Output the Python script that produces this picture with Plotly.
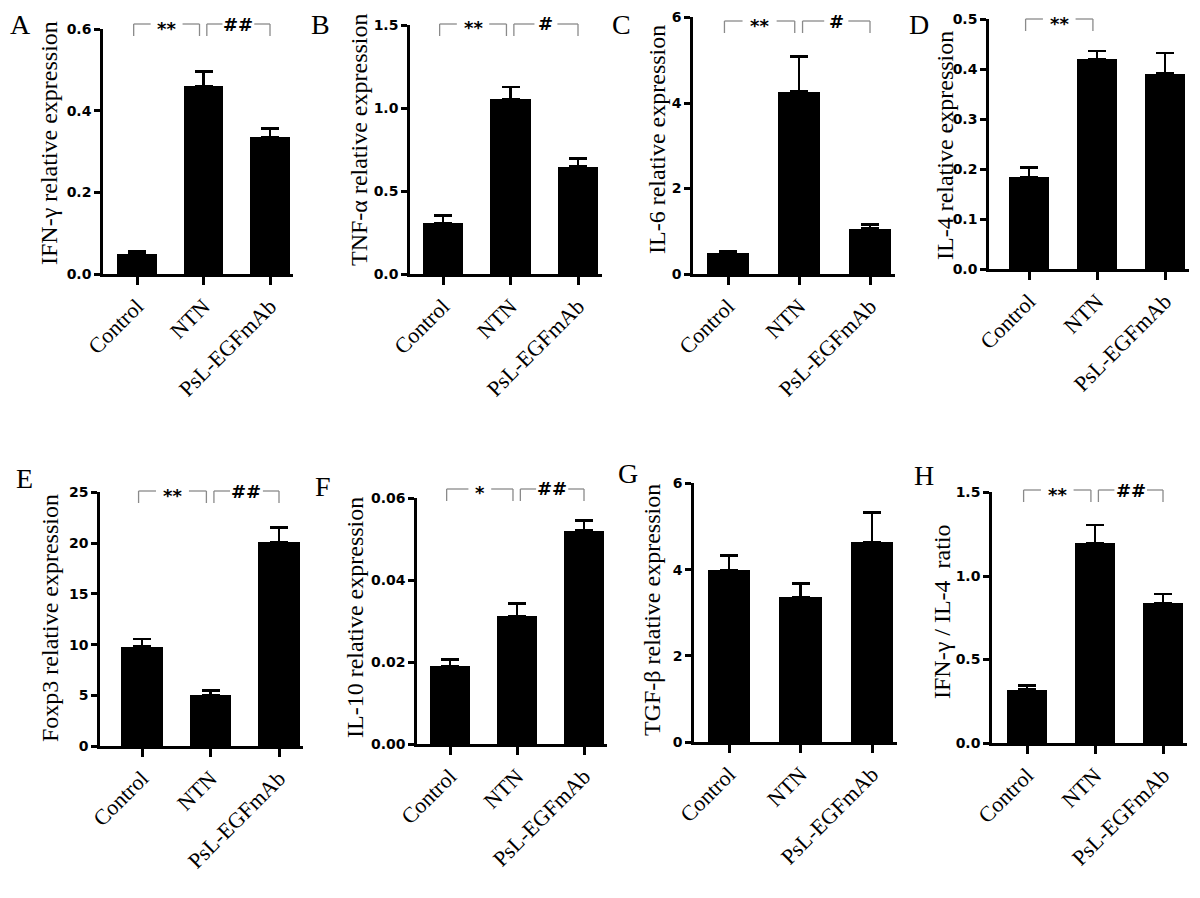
import plotly.graph_objects as go

# ---------------- data ----------------
categories = ["Control", "NTN", "PsL-EGFmAb"]

ifng_mean = [0.049, 0.461, 0.335]
ifng_err = [0.006, 0.036, 0.022]
tnfa_mean = [0.305, 1.054, 0.647]
tnfa_err = [0.050, 0.075, 0.052]
il6_mean = [0.48, 4.26, 1.06]
il6_err = [0.06, 0.83, 0.095]
il4_mean = [0.184, 0.421, 0.391]
il4_err = [0.020, 0.016, 0.042]
foxp3_mean = [9.78, 5.02, 20.1]
foxp3_err = [0.78, 0.43, 1.46]
il10_mean = [0.0190, 0.0313, 0.0521]
il10_err = [0.0016, 0.0031, 0.0025]
tgfb_mean = [3.99, 3.36, 4.64]
tgfb_err = [0.33, 0.31, 0.68]
ratio_mean = [0.32, 1.196, 0.837]
ratio_err = [0.025, 0.109, 0.055]

letters = ["A", "B", "C", "D", "E", "F", "G", "H"]
titles = ["IFN-γ relative expression", "TNF-α relative expression",
          "IL-6 relative expression", "IL-4 relative expression",
          "Foxp3 relative expression", "IL-10 relative expression",
          "TGF-β relative expression", "IFN-γ / IL-4  ratio"]
means = [ifng_mean, tnfa_mean, il6_mean, il4_mean, foxp3_mean, il10_mean, tgfb_mean, ratio_mean]
errs = [ifng_err, tnfa_err, il6_err, il4_err, foxp3_err, il10_err, tgfb_err, ratio_err]
tick_vals = [[0, 0.2, 0.4, 0.6], [0, 0.5, 1.0, 1.5], [0, 2, 4, 6],
             [0, 0.1, 0.2, 0.3, 0.4, 0.5], [0, 5, 10, 15, 20, 25],
             [0, 0.02, 0.04, 0.06], [0, 2, 4, 6], [0, 0.5, 1.0, 1.5]]
tick_text = [["0.0", "0.2", "0.4", "0.6"], ["0.0", "0.5", "1.0", "1.5"], ["0", "2", "4", "6"],
             ["0.0", "0.1", "0.2", "0.3", "0.4", "0.5"], ["0", "5", "10", "15", "20", "25"],
             ["0.00", "0.02", "0.04", "0.06"], ["0", "2", "4", "6"], ["0.0", "0.5", "1.0", "1.5"]]
sig_marks = [[(0, 1, "**"), (1, 2, "##")], [(0, 1, "**"), (1, 2, "#")],
             [(0, 1, "**"), (1, 2, "#")], [(0, 1, "**")],
             [(0, 1, "**"), (1, 2, "##")], [(0, 1, "*"), (1, 2, "##")],
             [], [(0, 1, "**"), (1, 2, "##")]]

# ---------------- geometry (pixels in the screenshot) ----------------
W, H = 1200, 898
OFF = 8  # page body margin of the html page
# y-axis x, first category x, last category x, y of zero, y of top, bracket y
geom = [
    (103, 137, 270, 274, 29, 24),
    (410, 443, 578, 274, 25, 24),
    (693, 728, 870, 274, 17, 21),
    (989, 1029, 1165, 269, 19, 19),
    (100, 142, 279, 746, 492, 491),
    (417, 450, 584, 744, 498, 489),
    (694, 729, 872, 742, 483, 483),
    (992, 1027, 1163, 743, 492, 490),
]
letter_pos = [(20, 24), (321, 24), (621, 24), (919, 24), (24, 478), (323, 487), (628, 473), (924, 475)]
title_pos = [(49, 143), (359, 140), (657, 140), (945, 146), (50, 618), (355, 618), (652, 610), (942, 612)]


def px(x):
    return (x - OFF) / W


def py(y):
    return 1 - (y - OFF) / H


serif = "Liberation Serif, Times New Roman, serif"
sans = "DejaVu Sans, Arial, sans-serif"

fig = go.Figure()
annotations = []
shapes = []
RIGHT = 2.35

for i in range(8):
    x0, c0, c2, yz, yt, yb = geom[i]
    sp = (c2 - c0) / 2.0
    left = -(c0 - x0) / sp
    xend = x0 + (RIGHT - left) * sp
    xa = "xaxis" if i == 0 else f"xaxis{i+1}"
    ya = "yaxis" if i == 0 else f"yaxis{i+1}"
    xr = "x" if i == 0 else f"x{i+1}"
    yr = "y" if i == 0 else f"y{i+1}"

    fig.add_trace(go.Bar(
        x=[0, 1, 2], y=means[i], width=0.6,
        marker=dict(color="black", line=dict(width=0)),
        error_y=dict(type="data", array=errs[i], arrayminus=[0, 0, 0], symmetric=False,
                     color="black", thickness=2.8, width=9),
        xaxis=xr, yaxis=yr, showlegend=False, hoverinfo="skip",
    ))

    ytop = tick_vals[i][-1] * 1.002
    fig.layout[xa] = dict(
        domain=[px(x0), min(px(xend), 1.0)], range=[left, RIGHT], anchor=yr,
        tickvals=[0, 1, 2], ticktext=categories, tickangle=-45,
        tickfont=dict(family=serif, size=22, color="black"),
        showline=True, linecolor="black", linewidth=2.5,
        ticks="outside", ticklen=8, tickwidth=2.5, tickcolor="black",
        showgrid=False, zeroline=False, fixedrange=True, automargin=False,
    )
    fig.layout[ya] = dict(
        domain=[py(yz), py(yt)], range=[0, ytop], anchor=xr,
        tickvals=tick_vals[i], ticktext=tick_text[i],
        tickfont=dict(family=sans, size=14, color="black", weight="bold"),
        showline=True, linecolor="black", linewidth=2.5,
        ticks="outside", ticklen=6, tickwidth=2.5, tickcolor="black",
        showgrid=False, zeroline=False, fixedrange=True, automargin=False,
    )

    # panel letter and y title
    lx, ly = letter_pos[i]
    annotations.append(dict(text=letters[i], x=px(lx), y=py(ly), xref="paper", yref="paper",
                            showarrow=False, xanchor="center", yanchor="middle",
                            font=dict(family=serif, size=28, color="black")))
    tx, ty = title_pos[i]
    annotations.append(dict(text=titles[i], x=px(tx), y=py(ty), xref="paper", yref="paper",
                            showarrow=False, textangle=-90, xanchor="center", yanchor="middle",
                            font=dict(family=serif, size=24, color="black")))

    # significance brackets
    h_dom = yz - yt
    by = (yz - yb) / h_dom
    drop = (yz - yb - 12) / h_dom
    span = RIGHT - left

    def xd(v):
        return (v - left) / span

    for (a, b, lab) in sig_marks[i]:
        s = a - 0.05 if a == 0 else a + 0.05
        e = b - 0.06 if b == 1 else b
        mid = (s + e) / 2.0
        gap = (0.1 + 0.07 * len(lab))
        for (p, q) in [(s, mid - gap), (mid + gap, e)]:
            shapes.append(dict(type="line", xref=f"{xr} domain", yref=f"{yr} domain",
                               x0=xd(p), x1=xd(q), y0=by, y1=by,
                               line=dict(color="#8a8a8a", width=1.3)))
        for p in (s, e):
            shapes.append(dict(type="line", xref=f"{xr} domain", yref=f"{yr} domain",
                               x0=xd(p), x1=xd(p), y0=by, y1=drop,
                               line=dict(color="#8a8a8a", width=1.3)))
        annotations.append(dict(text=lab, x=xd(mid), y=by, xref=f"{xr} domain", yref=f"{yr} domain",
                                showarrow=False, xanchor="center", yanchor="middle",
                                yshift=-4 if "*" in lab else 0,
                                font=dict(family=sans, size=18, color="black", weight="bold")))

fig.update_layout(
    width=W, height=H, margin=dict(l=0, r=0, t=0, b=0, pad=0, autoexpand=False),
    paper_bgcolor="white", plot_bgcolor="white",
    annotations=annotations, shapes=shapes, bargap=0,
)

fig.write_html("out.html")
